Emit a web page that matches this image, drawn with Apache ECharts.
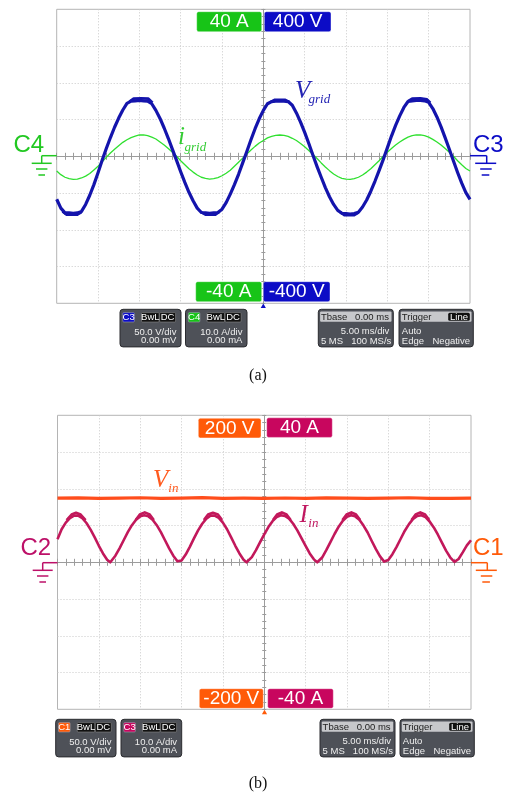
<!DOCTYPE html>
<html>
<head>
<meta charset="utf-8">
<script src="https://cdn.jsdelivr.net/npm/echarts@6/dist/echarts.min.js"></script>
<style>
  html, body { margin: 0; padding: 0; background: #ffffff; }
  #chart { width: 511px; height: 796px; }
</style>
</head>
<body>
<div id="chart"></div>
<script>
// ---- Captured waveforms (time in ms, 5 ms/div, trigger at 0) ----

// (a) grid side: sample times shared by V_grid and i_grid
const timeMs = [-25,-24.5,-24,-23.5,-23,-22.5,-22,-21.5,-21,-20.5,-20,-19.5,-19,-18.5,-18,-17.5,-17,-16.5,-16,-15.5,-15,-14.5,-14,-13.5,-13,-12.5,-12,-11.5,-11,-10.5,-10,-9.5,-9,-8.5,-8,-7.5,-7,-6.5,-6,-5.5,-5,-4.5,-4,-3.5,-3,-2.5,-2,-1.5,-1,-0.5,0,0.5,1,1.5,2,2.5,3,3.5,4,4.5,5,5.5,6,6.5,7,7.5,8,8.5,9,9.5,10,10.5,11,11.5,12,12.5,13,13.5,14,14.5,15,15.5,16,16.5,17,17.5,18,18.5,19,19.5,20,20.5,21,21.5,22,22.5,23,23.5,24,24.5,25];

// V_grid (V)
const gridVoltage = [
  -117,-141,-154,-154,-155,-154,-150,-131,-106,-77,
  -45,-11,21,51,79,104,126,144,150,151,
  152,151,150,143,125,103,77,49,19,-11,
  -42,-71,-98,-121,-141,-153,-154,-155,-154,-153,
  -144,-126,-103,-77,-49,-18,13,45,75,102,
  125,143,149,150,151,150,149,139,118,93,
  65,35,3,-28,-57,-85,-110,-131,-147,-155,
  -156,-157,-156,-152,-138,-119,-95,-68,-39,-9,
  23,55,84,110,133,149,151,152,152,151,
  147,130,107,80,50,19,-13,-44,-73,-99,
  -117
];

// outer edge of the V_grid trace where it smears at crests (null = gap)
const gridVoltageCrestTime  = [-24.3,-23.8,-22.5,-22.0,null,-16.2,-15.7,-14.8,-13.9,-13.4,null,-7.6,-7.0,-5.8,-5.3,null,0.9,1.4,2.6,3.1,null,9.3,9.8,11.0,11.5,null,17.5,18.0,19.0,19.8,20.2];
const gridVoltageCrest      = [-150,-159,-159,-152,null,149,157,158,157,146,null,-151,-159,-159,-151,null,148,154,154,148,null,-152,-160,-160,-153,null,150,157,158,155,146];

// i_grid (A)
const gridCurrent = [
  -4.0,-5.0,-5.7,-6.1,-6.3,-6.2,-5.9,-5.4,-4.7,-3.7,
  -2.7,-1.5,-0.3,0.9,1.9,2.9,3.8,4.5,5.1,5.5,
  5.8,5.8,5.6,5.2,4.7,3.9,3.1,2.1,1.1,0.0,
  -1.2,-2.3,-3.4,-4.3,-5.1,-5.7,-6.0,-6.2,-6.1,-5.8,
  -5.3,-4.6,-3.8,-2.7,-1.6,-0.5,0.6,1.7,2.7,3.6,
  4.3,5.0,5.4,5.7,5.8,5.7,5.4,4.9,4.3,3.5,
  2.6,1.6,0.5,-0.6,-1.8,-2.9,-3.9,-4.8,-5.5,-6.0,
  -6.2,-6.3,-6.1,-5.7,-5.1,-4.3,-3.4,-2.3,-1.2,0.0,
  1.1,2.1,3.1,3.9,4.6,5.2,5.6,5.8,5.8,5.6,
  5.2,4.6,3.9,3.1,2.1,1.1,0.0,-1.2,-2.3,-3.3,
  -4.0
];

// (b) input side
const inputVoltageTime = [-25,-22.5,-20,-17.5,-15,-12.5,-10,-7.5,-5,-2.5,0,2.5,5,7.5,10,12.5,15,17.5,20,22.5,25];
const inputVoltage     = [87.2,87.6,86.9,87.3,87.8,87.0,87.4,87.9,86.9,87.3,87.1,87.5,87.0,87.6,87.2,86.9,87.4,87.8,87.1,87.0,87.3];

const inputCurrentTime = [-25,-24.5,-24,-23.5,-23,-22.5,-22,-21.5,-21,-20.5,-20,-19.5,-19,-18.62,-18.5,-18,-17.5,-17,-16.5,-16,-15.5,-15,-14.5,-14,-13.5,-13,-12.5,-12,-11.5,-11,-10.5,-10.28,-10,-9.5,-9,-8.5,-8,-7.5,-7,-6.5,-6,-5.5,-5,-4.5,-4,-3.5,-3,-2.5,-2.14,-2,-1.5,-1,-0.5,0,0.5,1,1.5,2,2.5,3,3.5,4,4.5,5,5.5,6,6.41,6.5,7,7.5,8,8.5,9,9.5,10,10.5,11,11.5,12,12.5,13,13.5,14,14.5,14.67,15,15.5,16,16.5,17,17.5,18,18.5,19,19.5,20,20.5,21,21.5,22,22.5,23,23.07,23.5,24,24.5,25];
const inputCurrent = [6.3,9.0,10.8,12.0,12.7,12.7,12.0,10.7,8.9,6.8,4.5,2.4,0.7,0,0.3,1.8,3.8,6.0,8.2,10.1,11.6,12.5,12.8,12.5,11.6,10.1,8.2,6.0,3.8,1.8,0.3,0,0.5,2.1,4.2,6.5,8.7,10.5,11.9,12.7,12.7,12.1,10.8,9.0,6.8,4.5,2.4,0.7,0,0.2,1.4,3.3,5.5,7.6,9.6,11.2,12.3,12.8,12.6,11.9,10.5,8.7,6.6,4.5,2.4,0.8,0,0.1,1.3,3.3,5.5,7.7,9.7,11.3,12.4,12.8,12.5,11.6,10.0,8.1,5.8,3.6,1.6,0.2,0,0.6,2.2,4.2,6.4,8.6,10.4,11.8,12.6,12.8,12.3,11.1,9.5,7.5,5.3,3.1,1.3,0.1,0,0.9,2.7,4.6,6.0];

// outer edge of the I_in trace on each hump (null = gap)
const inputCurrentCrestTime = [-23.9,-23.3,-22.76,-22.2,-21.6,null,-15.55,-15.05,-14.45,-13.85,-13.35,null,-7.3,-6.8,-6.21,-5.6,-5.1,null,1.05,1.55,2.13,2.7,3.2,null,9.45,9.95,10.54,11.1,11.6,null,17.8,18.3,18.87,19.45,19.95];
const inputCurrentCrest     = [11.5,13.0,13.5,13.0,11.5,null,11.5,13.0,13.6,13.0,11.5,null,11.5,13.0,13.5,13.0,11.5,null,11.5,13.0,13.6,13.0,11.5,null,11.5,13.0,13.6,13.0,11.5,null,11.5,13.0,13.6,13.0,11.5];

// ---- Styling ----
const C_BLUE = '#1414ac', C_BLUE_BADGE = '#0c0cc6';
const C_GREEN = '#2fe02f', C_GREEN_BADGE = '#17c417', C_GREEN_TEXT = '#22c822';
const C_ORANGE = '#ff4d1c', C_ORANGE_BADGE = '#ff5a08';
const C_CRIMSON = '#c2185b', C_CRIMSON_BADGE = '#c8065e', C_CRIMSON_TEXT = '#bd1068';
const AXIS_C = '#9c9c9c', GRID_C = '#c9c9c9', FRAME_C = '#b4b4b4';
const SANS = '"Liberation Sans", Arial, sans-serif';
const SERIF = '"Liberation Serif", "Times New Roman", serif';

const pairs = (xs, ys) => xs.map((x, i) => (x === null || ys[i] === null) ? ['-', '-'] : [x, ys[i]]);

function timeAxes(g) {
  const base = {
    type: 'value', gridIndex: g, min: -25, max: 25, interval: 5, position: 'bottom',
    axisLine: { show: true, onZero: true, lineStyle: { color: AXIS_C, width: 1 } },
    axisLabel: { show: false }
  };
  return [
    Object.assign({}, base, {
      axisTick: { show: true, inside: false, length: 3.5, lineStyle: { color: AXIS_C } },
      minorTick: { show: true, splitNumber: 5, length: 3.5, lineStyle: { color: AXIS_C } },
      splitLine: { show: true, showMinLine: false, showMaxLine: false, lineStyle: { type: [1, 2], color: GRID_C } }
    }),
    Object.assign({}, base, {
      axisTick: { show: true, inside: true, length: 3.5, lineStyle: { color: AXIS_C } },
      minorTick: { show: true, splitNumber: 5, length: 3.5, lineStyle: { color: AXIS_C } },
      splitLine: { show: false }
    })
  ];
}

function levelAxes(g, max, interval, currentMax) {
  const base = {
    type: 'value', gridIndex: g, min: -max, max: max, interval: interval, position: 'left',
    axisLine: { show: true, onZero: true, lineStyle: { color: AXIS_C, width: 1 } },
    axisLabel: { show: false }
  };
  return [
    Object.assign({}, base, {
      axisTick: { show: true, inside: false, length: 2, lineStyle: { color: AXIS_C } },
      minorTick: { show: true, splitNumber: 5, length: 2, lineStyle: { color: AXIS_C } },
      splitLine: { show: true, showMinLine: false, showMaxLine: false, lineStyle: { type: [1, 2], color: GRID_C } }
    }),
    Object.assign({}, base, {
      axisTick: { show: true, inside: true, length: 2, lineStyle: { color: AXIS_C } },
      minorTick: { show: true, splitNumber: 5, length: 2, lineStyle: { color: AXIS_C } },
      splitLine: { show: false }
    }),
    { type: 'value', gridIndex: g, min: -currentMax, max: currentMax, show: false }
  ];
}

function trace(xi, yi, data, color, width, z) {
  return {
    type: 'line', xAxisIndex: xi, yAxisIndex: yi, data: data,
    symbol: 'none', showSymbol: false, connectNulls: false, silent: true,
    lineStyle: { color: color, width: width, join: 'round' }, z: z
  };
}

// ---- Overlay graphics: badges, channel markers, info boxes ----
const G = [];
function rect(x, y, w, h, fill, r, stroke, lw) {
  G.push({ type: 'rect', z: 100, shape: { x: x, y: y, width: w, height: h, r: r || 0 },
    style: { fill: fill, stroke: stroke || null, lineWidth: stroke ? (lw || 1) : 0 } });
}
function text(x, y, str, color, font, align) {
  G.push({ type: 'text', z: 101, x: x, y: y,
    style: { text: str, fill: color, font: font, align: align || 'left', verticalAlign: 'middle',
             textAlign: align || 'left', textVerticalAlign: 'middle' } });
}
function seg(x1, y1, x2, y2, color, w) {
  G.push({ type: 'line', z: 100, shape: { x1: x1, y1: y1, x2: x2, y2: y2 },
    style: { stroke: color, lineWidth: w || 1.5 } });
}
function tri(cx, y, color) {
  G.push({ type: 'polygon', z: 100, shape: { points: [[cx, y], [cx - 2.6, y + 4.5], [cx + 2.6, y + 4.5]] },
    style: { fill: color } });
}
function scaleBadge(x, y, w, h, fill, str) {
  rect(x, y, w, h, fill, 2, 'rgba(255,255,255,0.5)', 0.8);
  text(x + w / 2, y + h / 2 + 0.5, str, '#ffffff', '19px ' + SANS, 'center');
}
function groundLeft(xs, xe, y, color) {   // stub from frame edge, vertical drop, three bars
  seg(xs, y, xe, y, color, 1.5);
  seg(xs, y, xs, y + 7.6, color, 1.5);
  seg(xs - 10, y + 7.6, xs + 10, y + 7.6, color, 1.5);
  seg(xs - 5.7, y + 13.3, xs + 5.7, y + 13.3, color, 1.5);
  seg(xs - 3.3, y + 19.3, xs + 3.3, y + 19.3, color, 1.5);
}
function groundRight(xs, xe, y, color) {
  seg(xs, y, xe, y, color, 1.5);
  seg(xe, y, xe, y + 7.6, color, 1.5);
  seg(xe - 11.5, y + 7.6, xe + 9.5, y + 7.6, color, 1.5);
  seg(xe - 6.5, y + 13.3, xe + 5, y + 13.3, color, 1.5);
  seg(xe - 5, y + 19.3, xe + 2.6, y + 19.3, color, 1.5);
}
const BOX_FILL = '#4e5158', BOX_EDGE = '#2a2b2f', BOX_TEXT = '#eeeeee';
const SMALL = '9.5px ' + SANS;
function channelBox(x, y, w, ch, chColor, perDiv, offset) {
  rect(x, y, w, 37.6, BOX_FILL, 3, BOX_EDGE, 1);
  rect(x + 2.8, y + 3.3, 11.6, 9.4, chColor, 1, '#9aa0b0', 0.6);
  text(x + 8.6, y + 8.2, ch, '#ffffff', SMALL, 'center');
  rect(x + 21.5, y + 3.3, 17.6, 9.4, '#111111', 1, '#8a8a8a', 0.6);
  text(x + 30.3, y + 8.2, 'BwL', '#ffffff', SMALL, 'center');
  rect(x + 39.6, y + 3.3, 16, 9.4, '#111111', 1, '#8a8a8a', 0.6);
  text(x + 47.6, y + 8.2, 'DC', '#ffffff', SMALL, 'center');
  text(x + w - 4.6, y + 22.8, perDiv, BOX_TEXT, SMALL, 'right');
  text(x + w - 4.6, y + 31.3, offset, BOX_TEXT, SMALL, 'right');
}
function timebaseBox(x, y) {
  rect(x, y, 75, 37.6, BOX_FILL, 3, BOX_EDGE, 1);
  rect(x + 1.8, y + 2.2, 71.4, 10.2, '#c7c8cb', 1);
  text(x + 2.6, y + 7.6, 'Tbase', '#222222', SMALL, 'left');
  text(x + 70.6, y + 7.6, '0.00 ms', '#222222', SMALL, 'right');
  text(x + 71, y + 22.3, '5.00 ms/div', BOX_TEXT, SMALL, 'right');
  text(x + 2.6, y + 32.3, '5 MS', BOX_TEXT, SMALL, 'left');
  text(x + 73, y + 32.3, '100 MS/s', BOX_TEXT, SMALL, 'right');
}
function triggerBox(x, y) {
  rect(x, y, 74.3, 37.6, BOX_FILL, 3, BOX_EDGE, 1);
  rect(x + 1.8, y + 2.2, 70.7, 10.2, '#c7c8cb', 1);
  text(x + 2.8, y + 7.6, 'Trigger', '#222222', SMALL, 'left');
  rect(x + 49.2, y + 3.4, 21.6, 8, '#111111', 1.5);
  text(x + 60, y + 7.6, 'Line', '#ffffff', SMALL, 'center');
  text(x + 2.8, y + 22.3, 'Auto', BOX_TEXT, SMALL, 'left');
  text(x + 2.8, y + 32.3, 'Edge', BOX_TEXT, SMALL, 'left');
  text(x + 71, y + 32.3, 'Negative', BOX_TEXT, SMALL, 'right');
}

// panel (a)
scaleBadge(196.7, 11.7, 65, 20, C_GREEN_BADGE, '40 A');
scaleBadge(264.3, 11.7, 66.7, 20, C_BLUE_BADGE, '400 V');
scaleBadge(195.7, 281.7, 66, 20, C_GREEN_BADGE, '-40 A');
scaleBadge(263.3, 281.7, 66.7, 20, C_BLUE_BADGE, '-400 V');
text(13.5, 145.5, 'C4', C_GREEN_TEXT, '24px ' + SANS, 'left');
text(473, 145.5, 'C3', C_BLUE_BADGE, '24px ' + SANS, 'left');
groundLeft(41.7, 56.7, 155.7, C_GREEN_TEXT);
groundRight(470, 486.7, 155.7, C_BLUE_BADGE);
tri(263.3, 303.6, C_BLUE_BADGE);
text(295, 91.5, 'V', '#2424b4', 'italic 25px ' + SERIF, 'left');
text(308.5, 100, 'grid', '#2424b4', 'italic 13px ' + SERIF, 'left');
text(178, 137.5, 'i', '#33cc33', 'italic 25px ' + SERIF, 'left');
text(184.5, 147.5, 'grid', '#33cc33', 'italic 13px ' + SERIF, 'left');
channelBox(120, 309.3, 61, 'C3', C_BLUE_BADGE, '50.0 V/div', '0.00 mV');
channelBox(185.5, 309.3, 61.5, 'C4', C_GREEN_BADGE, '10.0 A/div', '0.00 mA');
timebaseBox(318.3, 309.3);
triggerBox(399, 309.3);
text(258, 376, '(a)', '#111111', '16px ' + SERIF, 'center');

// panel (b)
scaleBadge(198.3, 418.3, 62.7, 19.6, C_ORANGE_BADGE, '200 V');
scaleBadge(266.7, 417.8, 65.6, 19.6, C_CRIMSON_BADGE, '40 A');
scaleBadge(199.3, 688.7, 64, 19.6, C_ORANGE_BADGE, '-200 V');
scaleBadge(267.7, 688.7, 65.6, 19.6, C_CRIMSON_BADGE, '-40 A');
text(20.5, 548.8, 'C2', C_CRIMSON_TEXT, '24px ' + SANS, 'left');
text(473, 548.8, 'C1', C_ORANGE_BADGE, '24px ' + SANS, 'left');
groundLeft(42.7, 57.5, 562.7, C_CRIMSON_TEXT);
groundRight(471, 487.3, 562.7, C_ORANGE_BADGE);
tri(264.5, 709.8, C_ORANGE_BADGE);
text(153, 480, 'V', '#ff5a1e', 'italic 25px ' + SERIF, 'left');
text(168.3, 489, 'in', '#ff5a1e', 'italic 13px ' + SERIF, 'left');
text(299.5, 515.5, 'I', '#c01860', 'italic 25px ' + SERIF, 'left');
text(308.3, 524, 'in', '#c01860', 'italic 13px ' + SERIF, 'left');
channelBox(55.7, 719.3, 60.3, 'C1', C_ORANGE_BADGE, '50.0 V/div', '0.00 mV');
channelBox(121, 719.3, 60.7, 'C3', C_CRIMSON_BADGE, '10.0 A/div', '0.00 mA');
timebaseBox(320, 719.3);
triggerBox(400, 719.3);
text(258, 784, '(b)', '#111111', '16px ' + SERIF, 'center');

// ---- Chart ----
const [xa0, xa1] = timeAxes(0);
const [xb0, xb1] = timeAxes(1);
const ya = levelAxes(0, 400, 100, 40);   // 0,1: voltage  2: current
const yb = levelAxes(1, 200, 50, 40);    // 3,4: voltage  5: current

const option = {
  animation: false,
  backgroundColor: '#ffffff',
  grid: [
    { left: 56.7, top: 9.3, width: 413.3, height: 294, show: true, borderColor: FRAME_C, borderWidth: 1, backgroundColor: 'transparent', containLabel: false },
    { left: 57.5, top: 415.3, width: 413.5, height: 294, show: true, borderColor: FRAME_C, borderWidth: 1, backgroundColor: 'transparent', containLabel: false }
  ],
  xAxis: [xa0, xa1, xb0, xb1],
  yAxis: [ya[0], ya[1], ya[2], yb[0], yb[1], yb[2]],
  series: [
    trace(0, 2, pairs(timeMs, gridCurrent), C_GREEN, 1.3, 3),
    trace(0, 0, pairs(timeMs, gridVoltage), C_BLUE, 3.2, 4),
    trace(0, 0, pairs(gridVoltageCrestTime, gridVoltageCrest), C_BLUE, 2.6, 4),
    trace(2, 3, pairs(inputVoltageTime, inputVoltage), C_ORANGE, 3.2, 3),
    trace(2, 5, pairs(inputCurrentTime, inputCurrent), C_CRIMSON, 2.6, 4),
    trace(2, 5, pairs(inputCurrentCrestTime, inputCurrentCrest), C_CRIMSON, 2.6, 4)
  ],
  graphic: { elements: G }
};

const chart = echarts.init(document.getElementById('chart'), null, { renderer: 'canvas' });
chart.setOption(option);
</script>
</body>
</html>
